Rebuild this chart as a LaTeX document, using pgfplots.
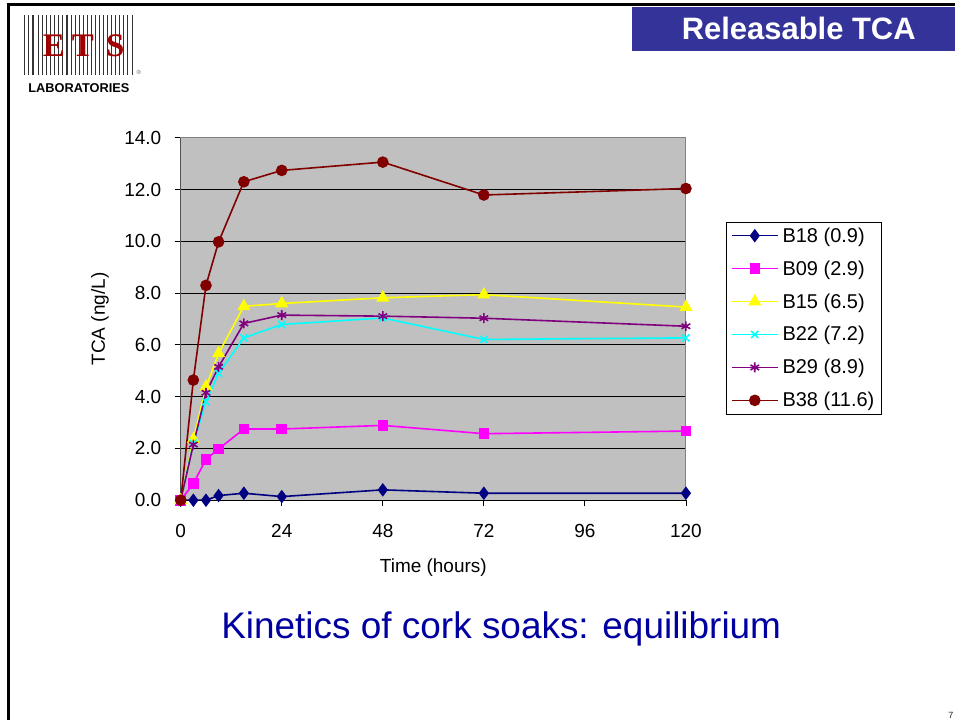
\documentclass[border=0pt]{standalone}
\usepackage{pgfplots}
\pgfplotsset{compat=1.18}
\usepackage{pgfplotstable}
\usepackage{fontspec}
\setmainfont{Liberation Sans}
\newfontfamily\logoserif{Liberation Serif}

\definecolor{cB18}{HTML}{000080}
\definecolor{cB09}{HTML}{FF00FF}
\definecolor{cB15}{HTML}{FFFF00}
\definecolor{cB22}{HTML}{00FFFF}
\definecolor{cB29}{HTML}{800080}
\definecolor{cB38}{HTML}{800000}
\definecolor{plotbg}{HTML}{C0C0C0}
\definecolor{titleblue}{HTML}{333399}
\definecolor{kinblue}{HTML}{0000A0}
\definecolor{logored}{HTML}{A00000}

% TCA (ng/L) released over time
\pgfplotstableread{
t    B18   B09   B15   B22   B29   B38
0    0     0     0     0     0     0
3    0     0.64  2.35  2.20  2.15  4.64
6    0     1.58  4.38  3.80  4.15  8.30
9    0.18  1.98  5.67  4.90  5.15  9.98
15   0.27  2.75  7.49  6.27  6.83  12.30
24   0.14  2.75  7.60  6.79  7.15  12.74
48   0.40  2.89  7.82  7.04  7.11  13.06
72   0.27  2.57  7.94  6.21  7.03  11.79
120  0.27  2.67  7.46  6.27  6.72  12.04
}\soaks

\begin{document}
\begin{tikzpicture}[x=1pt,y=1pt]
\fill[white] (0pt,0pt) rectangle (956pt,721pt);
% slide frame
\draw[black,line width=3pt] (8.5pt,0pt) -- (8.5pt,716.5pt) -- (956pt,716.5pt);

% logo
\foreach \lx/\lw in {24/0.7,28/0.7,33/1.3,38/0.7,42/0.7,46/0.7,50/0.7,54/0.7,58/0.7,62/0.7,67/1.3,71/0.7,75/0.7,79/0.7,83/0.7,87/0.7,91/0.7,95/0.7,100/1.3,104/0.7,108/0.7,112/0.7,116/0.7,120/0.7,124/0.7,128/0.7,133/1.3}
  \draw[black!80,line width=\lw pt] (\lx pt,646pt) -- (\lx pt,706pt);
\foreach \lc/\lx in {E/54,T/83,S/115.5}
  \node[anchor=base,inner sep=0,text=logored,font=\logoserif\bfseries\fontsize{33}{33}\selectfont] at (\lx pt,664pt) {\lc};
\node[text=black!60,font=\fontsize{6}{6}\selectfont,inner sep=0] at (139pt,648pt) {®};
\node[font=\bfseries\fontsize{12.8}{13}\selectfont,inner sep=0] at (79pt,633pt) {LABORATORIES};

% title box
\fill[titleblue] (633pt,669.5pt) rectangle (956pt,713.7pt);
\node[anchor=base,inner sep=0,text=white,font=\bfseries\fontsize{31}{32}\selectfont] at (800pt,681.7pt) {Releasable TCA};

\begin{axis}[
  at={(181pt,220pt)}, anchor=south west,
  width=506pt, height=363pt, scale only axis,
  xmin=0, xmax=120, ymin=0, ymax=14,
  xtick={0,24,...,120}, ytick={0,2,...,14},
  tick pos=left, tick align=outside,
  major tick length=6pt,
  tick style={black,line width=0.8pt},
  /pgf/number format/assume math mode=true,
  ticklabel style={font=\fontsize{19}{22}\selectfont},
  xticklabel style={yshift=-15pt},
  yticklabel style={xshift=-10pt,/pgf/number format/.cd,fixed,fixed zerofill,precision=1},
  axis background/.style={fill=plotbg},
  axis line style={black!50,line width=1pt},
  ymajorgrids, grid style={black,line width=0.8pt},
  xlabel={Time (hours)}, ylabel={TCA (ng/L)},
  label style={font=\fontsize{19}{22}\selectfont},
  xlabel style={at={(axis description cs:0.5,-0.1846)},anchor=center},
  ylabel style={at={(axis description cs:-0.160,0.5)},anchor=center},
  every axis plot/.append style={line width=1.6pt},
  legend style={at={(rel axis cs:1.079,0.769)},anchor=north west,
    draw=black,fill=white,
    font=\fontsize{20}{23}\selectfont,row sep=13pt,column sep=2pt,
    inner xsep=5pt,inner ysep=4pt},
  legend cell align=left,
  legend image code/.code={\draw[mark repeat=2,mark phase=2,#1,line width=1.6pt] plot coordinates {(0pt,0pt) (23pt,0pt) (46pt,0pt)};},
]
\addplot[cB18,mark=diamond*,mark size=5.5pt] table[x=t,y=B18] {\soaks};
\addlegendentry{B18 (0.9)}
\addplot[cB09,mark=square*,mark size=4.5pt] table[x=t,y=B09] {\soaks};
\addlegendentry{B09 (2.9)}
\addplot[cB15,mark=triangle*,mark size=6pt] table[x=t,y=B15] {\soaks};
\addlegendentry{B15 (6.5)}
\addplot[cB22,mark=x,mark size=5pt] table[x=t,y=B22] {\soaks};
\addlegendentry{B22 (7.2)}
\addplot[cB29,mark=asterisk,mark size=5pt] table[x=t,y=B29] {\soaks};
\addlegendentry{B29 (8.9)}
\addplot[cB38,mark=*,mark size=5pt] table[x=t,y=B38] {\soaks};
\addlegendentry{B38 (11.6)}
\draw[black,line width=1pt] (rel axis cs:0,1) -- (rel axis cs:0,0) -- (rel axis cs:1,0);
\end{axis}

\node[anchor=base,inner sep=0,text=kinblue,font=\fontsize{37}{40}\selectfont] at (502pt,81pt) {Kinetics of cork soaks: equilibrium};
\node[anchor=base east,inner sep=0,text=black!85,font=\fontsize{9}{10}\selectfont] at (955pt,1.5pt) {7};
\end{tikzpicture}
\end{document}
